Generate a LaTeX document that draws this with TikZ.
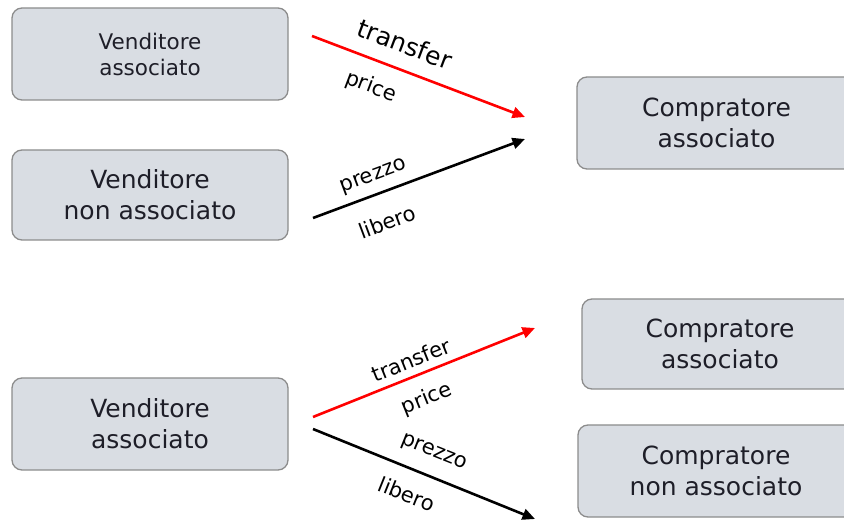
\documentclass[tikz,border=0pt]{standalone}
\usepackage{fontspec}
\setmainfont{DejaVu Sans}
\usetikzlibrary{arrows.meta}
\definecolor{boxfill}{RGB}{217,221,227}
\definecolor{boxline}{RGB}{140,140,140}
\definecolor{textc}{RGB}{30,30,40}
\tikzset{
  party/.style={draw=boxline, line width=1.3pt, fill=boxfill, rounded corners=10pt,
    text=textc, align=center, inner sep=0pt, minimum width=#1},
  bigtext/.style={font=\fontsize{25}{31}\selectfont},
  smalltext/.style={font=\fontsize{21.5}{26}\selectfont},
  flow/.style={line width=2.6pt, -{Triangle[length=12.5pt,width=11pt]}},
  redflow/.style={flow, draw=red, fill=red},
  blackflow/.style={flow, draw=black, fill=black},
  lab/.style={font=\fontsize{21}{25}\selectfont, inner sep=0pt, text=black},
}
\begin{document}
\begin{tikzpicture}[x=1pt,y=-1pt]
\useasboundingbox (0,0) rectangle (844,521);

% upper case: two sellers, one associated buyer
\node[party=276pt, minimum height=92pt, smalltext] (va1) at (150,54) {Venditore\\associato};
\node[party=276pt, minimum height=90pt, bigtext] (vn1) at (150,195) {Venditore\\non associato};
\node[party=279pt, minimum height=92pt, bigtext] (ca1) at (716.5,123) {Compratore\\associato};

\coordinate (r1s) at (312,36);
\coordinate (r1e) at (525,117);
\coordinate (b1s) at (313,218);
\coordinate (b1e) at (525,139);
\draw[redflow] (r1s) -- (r1e);
\draw[blackflow] (b1s) -- (b1e);

\node[lab, font=\fontsize{25}{30}\selectfont, rotate=-20.7] (t1) at (405,44) {transfer};
\node[lab, rotate=-20.7] (p1) at (371,87) {price};
\node[lab, rotate=20.5] (z1) at (374,177) {prezzo};
\node[lab, rotate=20.5] (l1) at (387,222) {libero};

% lower case: one associated seller, two buyers
\node[party=276pt, minimum height=92pt, bigtext] (va2) at (150,424) {Venditore\\associato};
\node[party=276pt, minimum height=90pt, bigtext] (ca2) at (720,344) {Compratore\\associato};
\node[party=276pt, minimum height=92pt, bigtext] (cn2) at (716,471) {Compratore\\non associato};

\coordinate (r2s) at (313,417);
\coordinate (r2e) at (535,328);
\coordinate (b2s) at (313,429);
\coordinate (b2e) at (535,519);
\draw[redflow] (r2s) -- (r2e);
\draw[blackflow] (b2s) -- (b2e);

\node[lab, rotate=21.9] (t2) at (411,360) {transfer};
\node[lab, rotate=21.9] (p2) at (427,399) {price};
\node[lab, rotate=-21.9] (z2) at (434,453) {prezzo};
\node[lab, rotate=-21.9] (l2) at (407,494) {libero};
\end{tikzpicture}
\end{document}
